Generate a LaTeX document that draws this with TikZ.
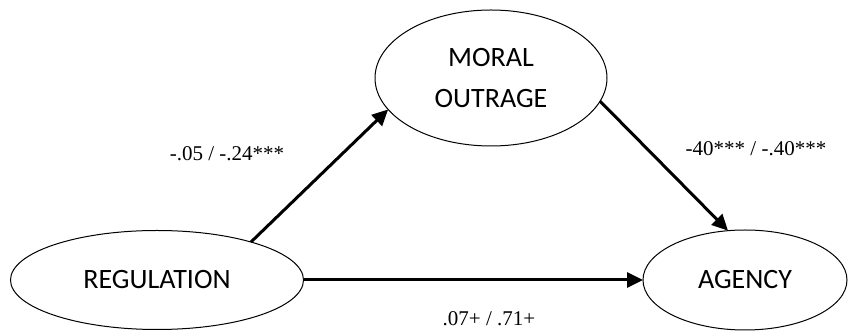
\documentclass[tikz,border=0pt]{standalone}
\usepackage{fontspec}
\setmainfont{Liberation Serif}
\newfontfamily\calib{Carlito}
\usepackage{tikz}
\usetikzlibrary{shapes.geometric,arrows.meta}

\begin{document}
\begin{tikzpicture}[x=0.5pt, y=-0.5pt,
  var/.style={ellipse, draw, line width=0.5pt, inner sep=0pt, outer sep=0pt, font=\calib\fontsize{14}{20.5}\selectfont, align=center},
  link/.style={line width=1.5pt, -{Triangle[length=8pt,width=7.5pt]}},
  coef/.style={font=\fontsize{10.5}{12}\selectfont}]
\useasboundingbox (0,0) rectangle (848,331);

\node[var, minimum width=116pt, minimum height=68pt] (moral) at (491,78) {MORAL\\OUTRAGE};
\node[var, minimum width=146.5pt, minimum height=49.5pt] (reg) at (157,280) {REGULATION};
\node[var, minimum width=102pt, minimum height=50pt] (agency) at (745,280) {AGENCY};

\draw[link] (reg.22) -- (moral.197);
\draw[link] (moral.-12) -- (agency.109);
\draw[link] (reg.east) -- (agency.west);

\node[coef] (a) at (227,154) {-.05 / -.24***};
\node[coef] (b) at (756,149) {-40*** / -.40***};
\node[coef] (c) at (489,319) {.07+ / .71+};
\end{tikzpicture}
\end{document}
